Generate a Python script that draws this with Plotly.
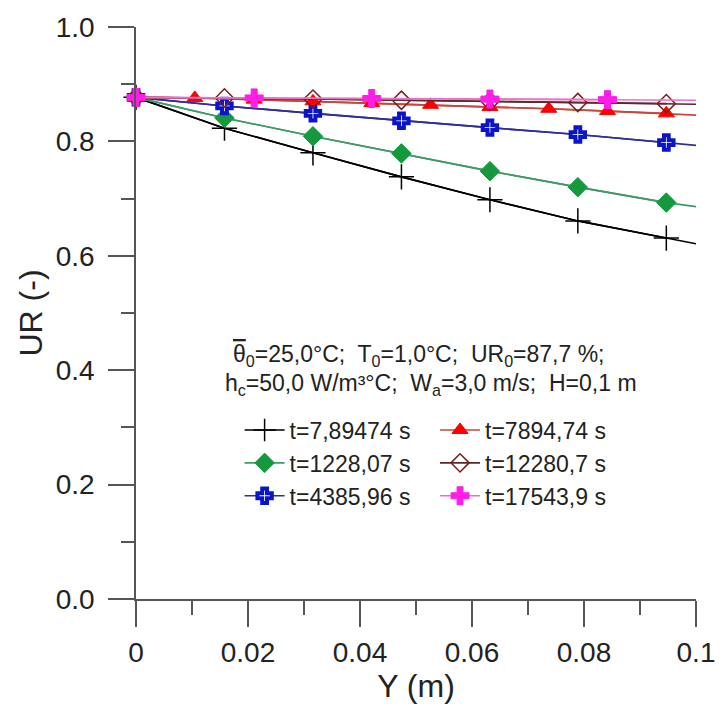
import plotly.graph_objects as go

# ---- data ----
x_a = [0, 0.0158, 0.0316, 0.0474, 0.0632, 0.0789, 0.0947]   # spacing of +, diamonds, crosses
x_b = [0, 0.0105, 0.0211, 0.0316, 0.0421, 0.0526, 0.0632, 0.0737, 0.0842, 0.0947]  # triangles
x_c = [0, 0.0211, 0.0421, 0.0632, 0.0842]                    # pink crosses
x_end = 0.1

ur_t1 = [0.877, 0.823, 0.780, 0.738, 0.698, 0.661, 0.631]
ur_t1_end = 0.621
ur_t2 = [0.877, 0.841, 0.809, 0.779, 0.748, 0.720, 0.693]
ur_t2_end = 0.686
ur_t3 = [0.877, 0.862, 0.849, 0.836, 0.824, 0.812, 0.798]
ur_t3_end = 0.793
ur_t4 = [0.877, 0.876, 0.873, 0.870, 0.867, 0.864, 0.860, 0.857, 0.853, 0.849]
ur_t4_end = 0.846
ur_t5 = [0.877, 0.876, 0.874, 0.872, 0.870, 0.868, 0.866]
ur_t5_end = 0.865
ur_t6 = [0.877, 0.876, 0.875, 0.874, 0.873]
ur_t6_end = 0.872

names = ["t=7,89474 s", "t=1228,07 s", "t=4385,96 s",
         "t=7894,74 s", "t=12280,7 s", "t=17543,9 s"]

x_ticks = [0, 0.02, 0.04, 0.06, 0.08, 0.1]
x_ticktext = ["0", "0.02", "0.04", "0.06", "0.08", "0.1"]
y_ticks = [0.0, 0.2, 0.4, 0.6, 0.8, 1.0]
y_ticktext = ["0.0", "0.2", "0.4", "0.6", "0.8", "1.0"]

series = [
    # x, y, end, name, symbol, marker color, marker line color, marker line width, line color, size, legend
    (x_a, ur_t1, ur_t1_end, names[0], "cross-thin", "black", "black", 1.5, "black", 18, "legend"),
    (x_a, ur_t2, ur_t2_end, names[1], "diamond", "#149a3c", "#149a3c", 1.0, "#3f9a66", 15, "legend"),
    (x_a, ur_t3, ur_t3_end, names[2], "cross", "white", "#0a14c8", 4.0, "#2e2e9a", 12, "legend"),
    (x_b, ur_t4, ur_t4_end, names[3], "triangle-up", "#ff0000", "#ff0000", 1.0, "#c8463c", 14, "legend2"),
    (x_a, ur_t5, ur_t5_end, names[4], "diamond-open", "#7a1e1e", "#7a1e1e", 1.5, "#5a2a2a", 14, "legend2"),
    (x_c, ur_t6, ur_t6_end, names[5], "cross", "#ff1ee6", "#ff1ee6", 1.0, "#f06ec8", 15, "legend2"),
]

fig = go.Figure()
for xs, ys, ye, nm, sym, mc, mlc, mlw, lc, sz, lg in series:
    fig.add_trace(go.Scatter(
        x=xs + [x_end], y=ys + [ye], mode="lines",
        line=dict(color=lc, width=1.6), showlegend=False,
        hoverinfo="skip", cliponaxis=False))
    fig.add_trace(go.Scatter(
        x=xs, y=ys, mode="lines+markers", name=nm,
        line=dict(color=lc, width=1.6),
        marker=dict(symbol=sym, size=sz, color=mc,
                    line=dict(color=mlc, width=mlw)),
        legend=lg, legendgroup=nm, cliponaxis=False))

font_main = "Liberation Sans, Arial, sans-serif"
axis_col = "#555555"

fig.update_layout(
    width=727, height=711,
    margin=dict(l=136, r=21, t=27, b=112),
    paper_bgcolor="white", plot_bgcolor="white",
    font=dict(family=font_main, color="#1a1a1a"),
    xaxis=dict(range=[0, 0.1], showgrid=False, zeroline=False,
               showline=True, linecolor=axis_col, linewidth=1.5,
               ticks="outside", ticklen=26, tickwidth=1.5, tickcolor=axis_col,
               tickvals=x_ticks, ticktext=x_ticktext,
               tickfont=dict(size=28, color="#222"), ticklabelstandoff=2,
               minor=dict(dtick=0.01, ticks="outside", ticklen=14,
                          tickwidth=1.5, tickcolor=axis_col, showgrid=False),
               title=dict(text="Y (m)", font=dict(size=32, color="#222"), standoff=0)),
    yaxis=dict(range=[0, 1.0], showgrid=False, zeroline=False,
               showline=True, linecolor=axis_col, linewidth=1.5,
               ticks="outside", ticklen=26, tickwidth=1.5, tickcolor=axis_col,
               tickvals=y_ticks, ticktext=y_ticktext,
               tickfont=dict(size=28, color="#222"), ticklabelstandoff=8,
               minor=dict(dtick=0.1, ticks="outside", ticklen=13,
                          tickwidth=1.5, tickcolor=axis_col, showgrid=False),
               title=dict(text="UR (-)", font=dict(size=32, color="#222"), standoff=4)),
    legend=dict(x=0.185, y=0.333, xanchor="left", yanchor="top",
                bgcolor="rgba(0,0,0,0)", font=dict(size=23, color="#222"),
                tracegroupgap=0, itemwidth=40),
    legend2=dict(x=0.534, y=0.333, xanchor="left", yanchor="top",
                 bgcolor="rgba(0,0,0,0)", font=dict(size=23, color="#222"),
                 tracegroupgap=0, itemwidth=40),
    annotations=[
        dict(x=0.0505, y=0.425, xref="x", yref="y", showarrow=False,
             text="<span style='text-decoration:overline'>θ</span><sub>0</sub>=25,0°C;\u00a0 T<sub>0</sub>=1,0°C;\u00a0 UR<sub>0</sub>=87,7 %;",
             font=dict(size=23, color="#222")),
        dict(x=0.0527, y=0.375, xref="x", yref="y", showarrow=False,
             text="h<sub>c</sub>=50,0 W/m³°C;\u00a0 W<sub>a</sub>=3,0 m/s;\u00a0 H=0,1 m",
             font=dict(size=23, color="#222")),
    ],
)

fig.write_html("out.html")
